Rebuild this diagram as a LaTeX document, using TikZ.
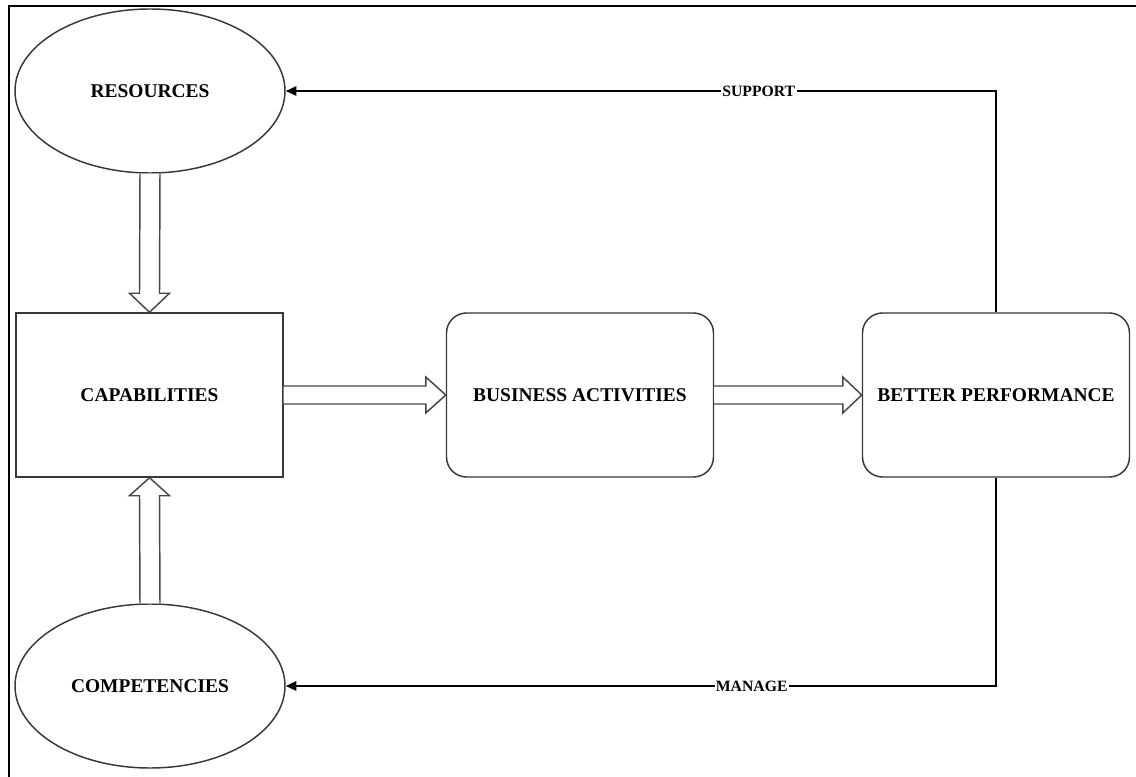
\documentclass[tikz,border=0pt]{standalone}
\usepackage{fontspec}
\setmainfont{Liberation Serif}
\usetikzlibrary{shapes.geometric,arrows.meta,calc}

\tikzset{
  shapeline/.style={draw=black!78, line width=1.1pt},
  oval/.style={shapeline, ellipse, minimum width=202.5pt, minimum height=123pt, inner sep=0pt,
    font=\fontsize{14.6}{16}\selectfont\bfseries},
  sqbox/.style={shapeline, rectangle, minimum width=200.25pt, minimum height=123pt, inner sep=0pt,
    font=\fontsize{14.6}{16}\selectfont\bfseries},
  rbox/.style={sqbox, rounded corners=15pt},
  hollow/.style={draw=black!72, line width=1.1pt, fill=white, line join=miter},
  feedback/.style={draw=black, line width=1.5pt, -{Triangle[length=8pt,width=7pt]}},
  flowlabel/.style={fill=white, inner sep=1pt, font=\fontsize{11.8}{13}\selectfont\bfseries}
}

\begin{document}
\begin{tikzpicture}[x=0.75pt, y=0.75pt]
  \clip (0,0) rectangle (1136,776);
  % outer frame, running past the right and bottom edges
  \draw[line width=1.6pt] (9,-20) -- (9,770) -- (1160,770);

  % nodes
  \node[oval]  (res)  at (150,685) {RESOURCES};
  \node[oval]  (comp) at (150,90)  {COMPETENCIES};
  \node[sqbox] (cap)  at (149.5,381) {CAPABILITIES};
  \node[rbox]  (bus)  at (580,381) {BUSINESS ACTIVITIES};
  \node[rbox]  (perf) at (996,381) {BETTER PERFORMANCE};

  % hollow block arrows
  \draw[hollow] ($(res.south)+(-10,0)$) -- ($(cap.north)+(-10,19)$) -- ($(cap.north)+(-20,19)$)
    -- (cap.north) -- ($(cap.north)+(20,19)$) -- ($(cap.north)+(10,19)$) -- ($(res.south)+(10,0)$);
  \draw[hollow] ($(comp.north)+(-10,0)$) -- ($(cap.south)+(-10,-18)$) -- ($(cap.south)+(-20,-18)$)
    -- (cap.south) -- ($(cap.south)+(20,-18)$) -- ($(cap.south)+(10,-18)$) -- ($(comp.north)+(10,0)$);
  \draw[hollow] ($(cap.east)+(0,9)$) -- ($(bus.west)+(-20,9)$) -- ($(bus.west)+(-20,18)$)
    -- (bus.west) -- ($(bus.west)+(-20,-18)$) -- ($(bus.west)+(-20,-9)$) -- ($(cap.east)+(0,-9)$);
  \draw[hollow] ($(bus.east)+(0,9)$) -- ($(perf.west)+(-19,9)$) -- ($(perf.west)+(-19,18)$)
    -- (perf.west) -- ($(perf.west)+(-19,-18)$) -- ($(perf.west)+(-19,-9)$) -- ($(bus.east)+(0,-9)$);

  % feedback connectors
  \draw[feedback] (perf.north) |- (res.east) node[flowlabel, pos=0.667] {SUPPORT};
  \draw[feedback] (perf.south) |- (comp.east) node[flowlabel, pos=0.672] {MANAGE};
\end{tikzpicture}
\end{document}
